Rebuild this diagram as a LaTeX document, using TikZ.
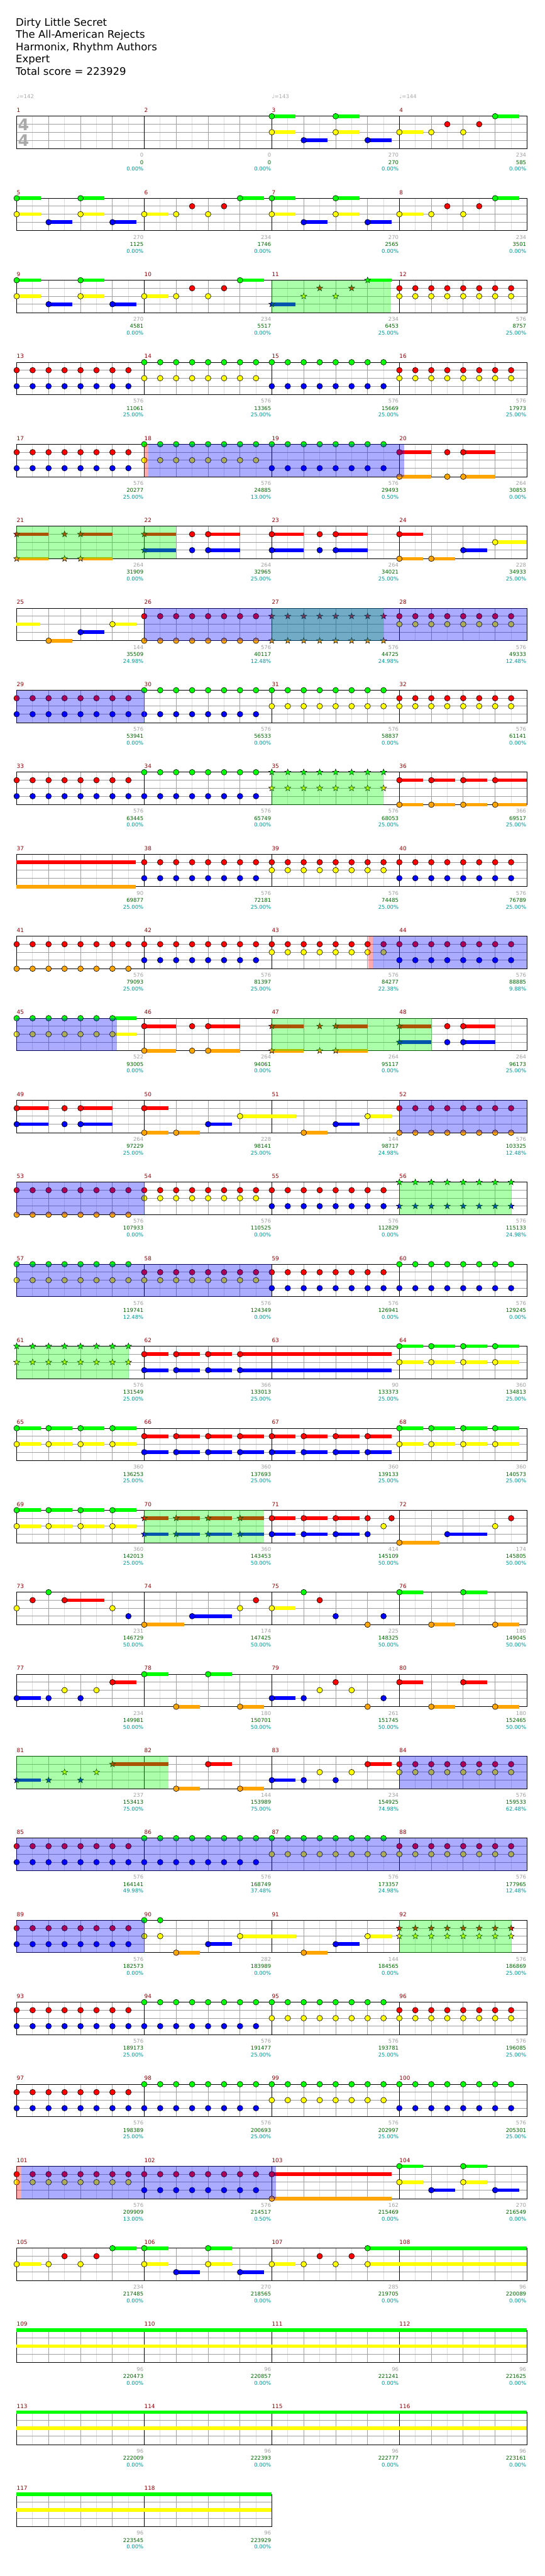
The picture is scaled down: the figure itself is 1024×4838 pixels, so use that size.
\documentclass[tikz,border=0pt]{standalone}
\usepackage{fontspec}
\setmainfont{DejaVu Sans}
\usetikzlibrary{shapes.geometric}
\definecolor{cG}{RGB}{0,255,0}
\definecolor{cR}{RGB}{255,0,0}
\definecolor{cY}{RGB}{255,255,0}
\definecolor{cB}{RGB}{0,0,255}
\definecolor{cO}{RGB}{255,165,0}
\definecolor{lgray}{RGB}{221,221,221}
\definecolor{mgray}{RGB}{160,160,160}
\definecolor{numgray}{RGB}{160,160,160}
\definecolor{scoregreen}{RGB}{0,100,0}
\definecolor{pctteal}{RGB}{0,150,150}
\definecolor{mnumred}{RGB}{140,0,0}
\definecolor{tempogray}{RGB}{170,170,170}
\def\lyG{0}\def\lyR{15}\def\lyY{30}\def\lyB{45}\def\lyO{61}
\tikzset{
  lg/.style={draw=lgray,line width=1pt},
  bgl/.style={draw=mgray,line width=1pt},
  mnum/.style={anchor=base west,inner sep=0pt,text=mnumred,font=\fontsize{10.5}{12}\selectfont},
  ngray/.style={anchor=base east,inner sep=0pt,text=numgray,font=\fontsize{10}{12}\selectfont},
  nscore/.style={anchor=base east,inner sep=0pt,text=scoregreen,font=\fontsize{10}{12}\selectfont},
  npct/.style={anchor=base east,inner sep=0pt,text=pctteal,font=\fontsize{10}{12}\selectfont},
  tempo/.style={anchor=base west,inner sep=0pt,text=tempogray,font=\fontsize{10}{12}\selectfont},
  tsig/.style={anchor=base,inner sep=0pt,text=tempogray,font=\fontsize{30}{30}\selectfont\bfseries},
  titletext/.style={anchor=base west,inner sep=0pt,font=\fontsize{19.5}{23}\selectfont},
  starn/.style={star,star points=5,star point ratio=2.4,minimum size=12pt,inner sep=0pt,draw=black,line width=0.6pt},
  notec/.style={draw=black,line width=0.7pt},
}
\newcommand\nC[2]{\edef\nly{\csname ly#1\endcsname}\filldraw[notec,fill=c#1] (60*#2,\nly) circle[radius=5.3pt];}
\newcommand\sB[3]{\edef\nly{\csname ly#1\endcsname}\fill[c#1] (60*#2,\nly-3.4) rectangle ++(#3,6.8);}
\newcommand\nS[3]{\sB{#1}{#2}{#3}\nC{#1}{#2}}
\newcommand\sC[2]{\edef\nly{\csname ly#1\endcsname}\node[starn,fill=c#1] at (60*#2,\nly) {};}
\newcommand\sS[3]{\sB{#1}{#2}{#3}\sC{#1}{#2}}
\newcommand\eig[2]{\foreach \i in {0,...,7}{\nC{#1}{\i/2}\nC{#2}{\i/2}}}
\newcommand\eigS[2]{\foreach \i in {0,...,7}{\sC{#1}{\i/2}\sC{#2}{\i/2}}}
\newcommand\bts[2]{\foreach \i in {0,...,3}{\nS{#1}{\i}{45}\nS{#2}{\i}{45}}}
\newcommand\btsS[2]{\foreach \i in {0,...,3}{\sS{#1}{\i}{45}\sS{#2}{\i}{45}}}
\newcommand\patA{\nS{G}{0}{45}\nS{Y}{0}{45}\nS{B}{1}{45}\nS{G}{2}{45}\nS{Y}{2}{45}\nS{B}{3}{45}}
\newcommand\patB{\nS{Y}{0}{45}\nC{Y}{1}\nC{R}{1.5}\nC{Y}{2}\nC{R}{2.5}\nS{G}{3}{45}}
\newcommand\RowGrid[2]{%
  \pgfmathsetmacro\rowT{218.3+154*#1}%
  \pgfmathsetmacro\rowxe{31.3+239.7*#2}%
  \foreach \cc in {1,...,#2}{%
    \pgfmathsetmacro\colxa{31.3+239.7*(\cc-1)}%
    \foreach \kk in {30,90,150,210}{\draw[lg] (\colxa+\kk,\rowT) -- (\colxa+\kk,\rowT+61);}%
  }%
  \foreach \ln in {15,30,45}{\draw[bgl] (31.3,\rowT+\ln) -- (\rowxe,\rowT+\ln);}%
  \foreach \cc in {1,...,#2}{%
    \pgfmathsetmacro\colxa{31.3+239.7*(\cc-1)}%
    \foreach \kk in {60,120,180}{\draw[bgl] (\colxa+\kk,\rowT) -- (\colxa+\kk,\rowT+61);}%
    \draw[black,line width=1pt] (\colxa,\rowT) -- (\colxa,\rowT+61);%
  }%
  \draw[black,line width=1pt] (31.3,\rowT) rectangle (\rowxe,\rowT+61);%
}
\newcommand\Ov[4]{\pgfmathsetmacro\rowT{218.3+154*#1}\fill[#4,fill opacity=0.33] (#2,\rowT) rectangle (#3,\rowT+61);}
\newcommand\Meas[5]{%
  \pgfmathtruncatemacro\mr{div(#1-1,4)}%
  \pgfmathtruncatemacro\mc{mod(#1-1,4)}%
  \begin{scope}[shift={({31.3+239.7*\mc},{218.3+154*\mr})}]
    #5
    \node[mnum] at (0,-7.3) {#1};
    \node[ngray] at (238.5,76.7) {#2};
    \node[nscore] at (238.5,90) {#3};
    \node[npct] at (238.5,102.7) {#4\%};
  \end{scope}}
\begin{document}
\begin{tikzpicture}[x=1pt,y=-1pt]
\useasboundingbox (0,0) rectangle (1024,4838);
\fill[white] (0,0) rectangle (1024,4838);
% title
\node[titletext] (t1) at (29.5,49) {Dirty Little Secret};
\node[titletext] (t2) at (29.5,72) {The All-American Rejects};
\node[titletext] (t3) at (29.5,95) {Harmonix, Rhythm Authors};
\node[titletext] (t4) at (29.5,118) {Expert};
\node[titletext] (t5) at (29.5,141) {Total score = 223929};
% grids
\foreach \r in {0,...,28}{\RowGrid{\r}{4}}
\RowGrid{29}{2}
% measures
\Meas{1}{0}{0}{0.00}{\node[tsig] at (12.9,26.7) {4}; \node[tsig] at (12.9,56.7) {4}; \node[tempo] at (0,-33) {♩=142};}
\Meas{2}{0}{0}{0.00}{}
\Meas{3}{270}{270}{0.00}{\patA \node[tempo] at (0,-33) {♩=143};}
\Meas{4}{234}{585}{0.00}{\patB \node[tempo] at (0,-33) {♩=144};}
\Meas{5}{270}{1125}{0.00}{\patA}
\Meas{6}{234}{1746}{0.00}{\patB}
\Meas{7}{270}{2565}{0.00}{\patA}
\Meas{8}{234}{3501}{0.00}{\patB}
\Meas{9}{270}{4581}{0.00}{\patA}
\Meas{10}{234}{5517}{0.00}{\patB}
\Meas{11}{234}{6453}{25.00}{\sS{B}{0}{45}\sC{Y}{1}\sC{R}{1.5}\sC{Y}{2}\sC{R}{2.5}\sS{G}{3}{45}}
\Meas{12}{576}{8757}{25.00}{\eig{R}{Y}}
\Meas{13}{576}{11061}{25.00}{\eig{R}{B}}
\Meas{14}{576}{13365}{25.00}{\eig{G}{Y}}
\Meas{15}{576}{15669}{25.00}{\eig{G}{B}}
\Meas{16}{576}{17973}{25.00}{\eig{R}{Y}}
\Meas{17}{576}{20277}{25.00}{\eig{R}{B}}
\Meas{18}{576}{24885}{13.00}{\eig{G}{Y}}
\Meas{19}{576}{29493}{0.50}{\eig{G}{B}}
\Meas{20}{264}{30853}{0.00}{\nS{R}{0}{60}\nS{O}{0}{60}\nC{R}{1.5}\nC{O}{1.5}\nS{R}{2}{60}\nS{O}{2}{60}}
\Meas{21}{264}{31909}{0.00}{\sS{R}{0}{60}\sS{O}{0}{60}\sC{R}{1.5}\sC{O}{1.5}\sS{R}{2}{60}\sS{O}{2}{60}}
\Meas{22}{264}{32965}{25.00}{\sS{R}{0}{60}\sS{B}{0}{60}\nC{R}{1.5}\nC{B}{1.5}\nS{R}{2}{60}\nS{B}{2}{60}}
\Meas{23}{264}{34021}{25.00}{\nS{R}{0}{60}\nS{B}{0}{60}\nC{R}{1.5}\nC{B}{1.5}\nS{R}{2}{60}\nS{B}{2}{60}}
\Meas{24}{228}{34933}{25.00}{\nS{R}{0}{45}\nS{O}{0}{45}\nS{O}{1}{45}\nS{B}{2}{45}\nS{Y}{3}{59.7}}
\Meas{25}{144}{35509}{24.98}{\sB{Y}{0}{44}\nS{O}{1}{45}\nS{B}{2}{45}\nS{Y}{3}{45}}
\Meas{26}{576}{40117}{12.48}{\eig{R}{O}}
\Meas{27}{576}{44725}{24.98}{\eigS{R}{O}}
\Meas{28}{576}{49333}{12.48}{\eig{R}{Y}}
\Meas{29}{576}{53941}{0.00}{\eig{R}{B}}
\Meas{30}{576}{56533}{0.00}{\eig{G}{B}}
\Meas{31}{576}{58837}{0.00}{\eig{G}{Y}}
\Meas{32}{576}{61141}{0.00}{\eig{R}{Y}}
\Meas{33}{576}{63445}{0.00}{\eig{R}{B}}
\Meas{34}{576}{65749}{0.00}{\eig{G}{B}}
\Meas{35}{576}{68053}{25.00}{\eigS{G}{Y}}
\Meas{36}{366}{69517}{25.00}{\foreach \i in {0,1,2}{\nS{R}{\i}{45}\nS{O}{\i}{45}}\nS{R}{3}{59.7}\nS{O}{3}{59.7}}
\Meas{37}{90}{69877}{25.00}{\sB{R}{0}{224}\sB{O}{0}{224}}
\Meas{38}{576}{72181}{25.00}{\eig{R}{B}}
\Meas{39}{576}{74485}{25.00}{\eig{R}{Y}}
\Meas{40}{576}{76789}{25.00}{\eig{R}{B}}
\Meas{41}{576}{79093}{25.00}{\eig{R}{O}}
\Meas{42}{576}{81397}{25.00}{\eig{R}{B}}
\Meas{43}{576}{84277}{22.38}{\eig{R}{Y}}
\Meas{44}{576}{88885}{9.88}{\eig{R}{B}}
\Meas{45}{522}{93005}{0.00}{\foreach \i in {0,...,5}{\nC{G}{\i/2}\nC{Y}{\i/2}}\nS{G}{3}{45}\nS{Y}{3}{45}}
\Meas{46}{264}{94061}{0.00}{\nS{R}{0}{60}\nS{O}{0}{60}\nC{R}{1.5}\nC{O}{1.5}\nS{R}{2}{60}\nS{O}{2}{60}}
\Meas{47}{264}{95117}{0.00}{\sS{R}{0}{60}\sS{O}{0}{60}\sC{R}{1.5}\sC{O}{1.5}\sS{R}{2}{60}\sS{O}{2}{60}}
\Meas{48}{264}{96173}{25.00}{\sS{R}{0}{60}\sS{B}{0}{60}\nC{R}{1.5}\nC{B}{1.5}\nS{R}{2}{60}\nS{B}{2}{60}}
\Meas{49}{264}{97229}{25.00}{\nS{R}{0}{60}\nS{B}{0}{60}\nC{R}{1.5}\nC{B}{1.5}\nS{R}{2}{60}\nS{B}{2}{60}}
\Meas{50}{228}{98141}{25.00}{\nS{R}{0}{45}\nS{O}{0}{45}\nS{O}{1}{45}\nS{B}{2}{45}\nS{Y}{3}{105}}
\Meas{51}{144}{98717}{24.98}{\nS{O}{1}{45}\nS{B}{2}{45}\nS{Y}{3}{45}}
\Meas{52}{576}{103325}{12.48}{\eig{R}{O}}
\Meas{53}{576}{107933}{0.00}{\eig{R}{O}}
\Meas{54}{576}{110525}{0.00}{\eig{R}{Y}}
\Meas{55}{576}{112829}{0.00}{\eig{R}{B}}
\Meas{56}{576}{115133}{24.98}{\eigS{G}{B}}
\Meas{57}{576}{119741}{12.48}{\eig{G}{Y}}
\Meas{58}{576}{124349}{0.00}{\eig{R}{Y}}
\Meas{59}{576}{126941}{0.00}{\eig{R}{B}}
\Meas{60}{576}{129245}{0.00}{\eig{G}{B}}
\Meas{61}{576}{131549}{25.00}{\eigS{G}{Y}}
\Meas{62}{366}{133013}{25.00}{\foreach \i in {0,1,2}{\nS{R}{\i}{45}\nS{B}{\i}{45}}\nS{R}{3}{285}\nS{B}{3}{285}}
\Meas{63}{90}{133373}{25.00}{}
\Meas{64}{360}{134813}{25.00}{\bts{G}{Y}}
\Meas{65}{360}{136253}{25.00}{\bts{G}{Y}}
\Meas{66}{360}{137693}{25.00}{\bts{R}{B}}
\Meas{67}{360}{139133}{25.00}{\bts{R}{B}}
\Meas{68}{360}{140573}{25.00}{\bts{G}{Y}}
\Meas{69}{360}{142013}{25.00}{\bts{G}{Y}}
\Meas{70}{360}{143453}{50.00}{\btsS{R}{B}}
\Meas{71}{414}{145109}{50.00}{\foreach \i in {0,1,2}{\nS{R}{\i}{45}\nS{B}{\i}{45}}\nC{R}{3}\nC{B}{3}\nC{Y}{3.5}\nC{R}{3.75}}
\Meas{72}{174}{145805}{50.00}{\nS{O}{0}{75}\nS{B}{1.5}{75}\nC{Y}{3}\nC{R}{3.5}}
\Meas{73}{231}{146729}{50.00}{\nC{Y}{0}\nC{R}{0.5}\nC{G}{1}\nS{R}{1.5}{75}\nC{Y}{3}\nC{B}{3.5}}
\Meas{74}{174}{147425}{50.00}{\nS{O}{0}{75}\nS{B}{1.5}{75}\nC{Y}{3}\nC{R}{3.5}}
\Meas{75}{225}{148325}{50.00}{\nS{Y}{0}{45}\nC{G}{1}\nC{R}{1.5}\nC{B}{2}\nC{O}{3}\nC{B}{3.5}}
\Meas{76}{180}{149045}{50.00}{\nS{G}{0}{45}\nS{O}{1}{45}\nS{G}{2}{45}\nS{O}{3}{45}}
\Meas{77}{234}{149981}{50.00}{\nS{B}{0}{45}\nC{B}{1}\nC{Y}{1.5}\nC{B}{2}\nC{Y}{2.5}\nS{R}{3}{45}}
\Meas{78}{180}{150701}{50.00}{\nS{G}{0}{45}\nS{O}{1}{45}\nS{G}{2}{45}\nS{O}{3}{45}}
\Meas{79}{261}{151745}{50.00}{\nS{B}{0}{45}\nC{B}{1}\nC{Y}{1.5}\nC{R}{2}\nC{Y}{2.5}\nC{O}{3}\nC{B}{3.5}}
\Meas{80}{180}{152465}{50.00}{\nS{R}{0}{45}\nS{O}{1}{45}\nS{R}{2}{45}\nS{O}{3}{45}}
\Meas{81}{237}{153413}{75.00}{\sS{B}{0}{45}\sC{B}{1}\sC{Y}{1.5}\sC{B}{2}\sC{Y}{2.5}\sS{R}{3}{105}}
\Meas{82}{144}{153989}{75.00}{\nS{O}{1}{45}\nS{R}{2}{45}\nS{O}{3}{45}}
\Meas{83}{234}{154925}{74.98}{\nS{B}{0}{45}\nC{B}{1}\nC{Y}{1.5}\nC{B}{2}\nC{Y}{2.5}\nS{R}{3}{45}}
\Meas{84}{576}{159533}{62.48}{\eig{R}{Y}}
\Meas{85}{576}{164141}{49.98}{\eig{R}{B}}
\Meas{86}{576}{168749}{37.48}{\eig{G}{B}}
\Meas{87}{576}{173357}{24.98}{\eig{G}{Y}}
\Meas{88}{576}{177965}{12.48}{\eig{R}{Y}}
\Meas{89}{576}{182573}{0.00}{\eig{R}{B}}
\Meas{90}{282}{183989}{0.00}{\nC{G}{0}\nC{Y}{0}\nC{G}{0.5}\nC{Y}{0.5}\nS{O}{1}{45}\nS{B}{2}{45}\nS{Y}{3}{105}}
\Meas{91}{144}{184565}{0.00}{\nS{O}{1}{45}\nS{B}{2}{45}\nS{Y}{3}{45}}
\Meas{92}{576}{186869}{25.00}{\eigS{R}{Y}}
\Meas{93}{576}{189173}{25.00}{\eig{R}{B}}
\Meas{94}{576}{191477}{25.00}{\eig{G}{B}}
\Meas{95}{576}{193781}{25.00}{\eig{G}{Y}}
\Meas{96}{576}{196085}{25.00}{\eig{R}{Y}}
\Meas{97}{576}{198389}{25.00}{\eig{R}{B}}
\Meas{98}{576}{200693}{25.00}{\eig{G}{B}}
\Meas{99}{576}{202997}{25.00}{\eig{G}{Y}}
\Meas{100}{576}{205301}{25.00}{\eig{G}{B}}
\Meas{101}{576}{209909}{13.00}{\eig{R}{Y}}
\Meas{102}{576}{214517}{0.50}{\eig{R}{B}}
\Meas{103}{162}{215469}{0.00}{\nS{R}{0}{225}\nS{O}{0}{225}}
\Meas{104}{270}{216549}{0.00}{\patA}
\Meas{105}{234}{217485}{0.00}{\patB}
\Meas{106}{270}{218565}{0.00}{\patA}
\Meas{107}{285}{219705}{0.00}{\nS{Y}{0}{45}\nC{Y}{1}\nC{R}{1.5}\nC{Y}{2}\nC{R}{2.5}\sB{G}{3}{299}\sB{Y}{3}{299}\nC{G}{3}\nC{Y}{3}}
\Meas{108}{96}{220089}{0.00}{}
\Meas{109}{96}{220473}{0.00}{\sB{G}{0}{239.7}\sB{Y}{0}{239.7}}
\Meas{110}{96}{220857}{0.00}{\sB{G}{0}{239.7}\sB{Y}{0}{239.7}}
\Meas{111}{96}{221241}{0.00}{\sB{G}{0}{239.7}\sB{Y}{0}{239.7}}
\Meas{112}{96}{221625}{0.00}{\sB{G}{0}{239.7}\sB{Y}{0}{239.7}}
\Meas{113}{96}{222009}{0.00}{\sB{G}{0}{239.7}\sB{Y}{0}{239.7}}
\Meas{114}{96}{222393}{0.00}{\sB{G}{0}{239.7}\sB{Y}{0}{239.7}}
\Meas{115}{96}{222777}{0.00}{\sB{G}{0}{239.7}\sB{Y}{0}{239.7}}
\Meas{116}{96}{223161}{0.00}{\sB{G}{0}{239.7}\sB{Y}{0}{239.7}}
\Meas{117}{96}{223545}{0.00}{\sB{G}{0}{239.7}\sB{Y}{0}{239.7}}
\Meas{118}{96}{223929}{0.00}{\sB{G}{0}{239.7}\sB{Y}{0}{239.7}}
% star power phrases
\Ov{2}{510.7}{735}{cG}
\Ov{5}{31.3}{331}{cG}
\Ov{6}{510.7}{721}{cG}
\Ov{8}{510.7}{721}{cG}
\Ov{11}{510.7}{811}{cG}
\Ov{13}{750.4}{961.5}{cG}
\Ov{15}{31.3}{241.7}{cG}
\Ov{17}{271}{496}{cG}
\Ov{20}{31.3}{316}{cG}
\Ov{22}{750.4}{961.5}{cG}
% activation markers
\Ov{4}{271}{279}{cR}
\Ov{10}{691.7}{700}{cR}
\Ov{25}{31.3}{40}{cR}
% activations
\Ov{4}{279}{759.6}{cB}
\Ov{6}{271}{990.1}{cB}
\Ov{7}{31.3}{271}{cB}
\Ov{10}{700}{990.1}{cB}
\Ov{11}{31.3}{220}{cB}
\Ov{12}{750.4}{990.1}{cB}
\Ov{13}{31.3}{271}{cB}
\Ov{14}{31.3}{510.7}{cB}
\Ov{20}{750.4}{990.1}{cB}
\Ov{21}{31.3}{990.1}{cB}
\Ov{22}{31.3}{271}{cB}
\Ov{25}{40}{519}{cB}
\foreach \r in {7,13,22}{\pgfmathsetmacro\rowT{218.3+154*\r}\draw[cR,line width=1pt] (271,\rowT) -- (271,\rowT+61);}
\end{tikzpicture}
\end{document}
